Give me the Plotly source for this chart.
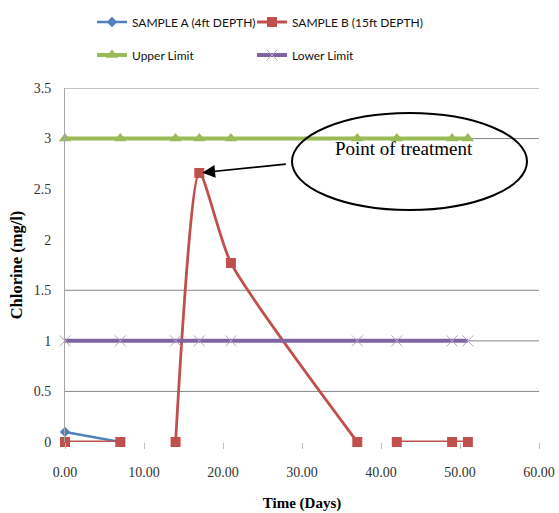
import plotly.graph_objects as go

# ---- data ----
days = [0, 7, 14, 17, 21, 37, 42, 49, 51]
sample_a_x = [0, 7]
sample_a_y = [0.1, 0.0]
sample_b_x = [0, 7, None, 14, 17, 21, 37, None, 42, 49, 51]
sample_b_y = [0, 0, None, 0, 2.66, 1.77, 0, None, 0, 0, 0]
upper_limit = [3] * len(days)
lower_limit = [1] * len(days)
grid_values = [0.5, 1, 1.5, 3, 3.5]
x_ticks = [0, 10, 20, 30, 40, 50, 60]
y_ticks = [0, 0.5, 1, 1.5, 2, 2.5, 3, 3.5]

BLUE = "#4F81BD"
RED = "#C0504D"
GREEN = "#9BBB59"
PURPLE = "#8064A2"
GRID = "#868686"
LEG_FONT = dict(family="Lato, sans-serif", size=12, color="#111")
SERIF = "Liberation Serif, Times New Roman, serif"

fig = go.Figure()
fig.add_trace(go.Scatter(
    x=sample_a_x, y=sample_a_y, name="SAMPLE A (4ft DEPTH)", mode="lines+markers",
    line=dict(color=BLUE, width=2.5), marker=dict(symbol="diamond", size=8, color=BLUE),
    cliponaxis=False, legend="legend", showlegend=True))
fig.add_trace(go.Scatter(
    x=sample_b_x, y=sample_b_y, name="SAMPLE B (15ft DEPTH)", mode="lines+markers",
    line=dict(color=RED, width=2.8, shape="spline", smoothing=0.6),
    marker=dict(symbol="square", size=10, color=RED), connectgaps=False,
    cliponaxis=False, legend="legend2", showlegend=True))
fig.add_trace(go.Scatter(
    x=days, y=upper_limit, name="Upper Limit", mode="lines+markers",
    line=dict(color=GREEN, width=4), marker=dict(symbol="triangle-up", size=11, color=GREEN),
    cliponaxis=False, legend="legend3", showlegend=True))
fig.add_trace(go.Scatter(
    x=days, y=lower_limit, name="Lower Limit", mode="lines+markers",
    line=dict(color=PURPLE, width=4),
    marker=dict(symbol="x-thin", size=11, line=dict(color="#B3A2C7", width=1), color="#B3A2C7"),
    cliponaxis=False, legend="legend4", showlegend=True))

shapes = []
for g in grid_values:
    shapes.append(dict(type="line", xref="x", yref="y", x0=0, x1=60, y0=g, y1=g,
                       line=dict(color=GRID, width=1), layer="below"))
# callout ellipse
shapes.append(dict(type="circle", xref="paper", yref="paper",
                   x0=(292 - 65) / 474, x1=(527 - 65) / 474,
                   y0=(442 - 210) / 354, y1=(442 - 113) / 354,
                   line=dict(color="black", width=2), fillcolor="rgba(0,0,0,0)", layer="above"))
fig.update_layout(shapes=shapes)

fig.add_annotation(x=17, y=2.66, xref="x", yref="y", text="", showarrow=True,
                   axref="pixel", ayref="pixel", ax=88, ay=-9, arrowhead=2, arrowsize=1.6,
                   arrowwidth=1.6, arrowcolor="black", standoff=3)
fig.add_annotation(x=(404 - 65) / 474, y=(442 - 148) / 354, xref="paper", yref="paper",
                   xanchor="center", yanchor="middle",
                   text="Point of treatment", showarrow=False,
                   font=dict(family=SERIF, size=19, color="black"))


def leg(px, py):
    return dict(orientation="h", x=(px - 65) / 474, xanchor="left", y=(442 - py) / 354,
                yanchor="middle", font=LEG_FONT, bgcolor="rgba(0,0,0,0)", visible=True,
                itemwidth=30)


fig.update_layout(
    width=559, height=513, showlegend=True,
    margin=dict(l=65, r=20, t=88, b=71, autoexpand=False),
    paper_bgcolor="white", plot_bgcolor="white",
    xaxis=dict(range=[0, 60], tickvals=x_ticks, tickformat=".2f", showgrid=False,
               zeroline=False, showline=False, ticks="outside", ticklen=6, tickcolor="#BFBFBF",
               ticklabelstandoff=11,
               tickfont=dict(family=SERIF, size=14, color="#333"),
               title=dict(text="<b>Time (Days)</b>", font=dict(family=SERIF, size=15, color="black"),
                          standoff=18)),
    yaxis=dict(range=[0, 3.5], tickvals=y_ticks, showgrid=False, zeroline=False,
               showline=True, linecolor="#A6A6A6", linewidth=1, ticks="",
               ticklabelstandoff=10,
               tickfont=dict(family=SERIF, size=14, color="#333"),
               title=dict(text="<b>Chlorine (mg/l)</b>", font=dict(family=SERIF, size=16.5, color="black"),
                          standoff=6)),
    legend=leg(92, 22),
    legend2=leg(252, 22),
    legend3=leg(92, 55),
    legend4=leg(252, 55),
)

fig.write_html("out.html")
